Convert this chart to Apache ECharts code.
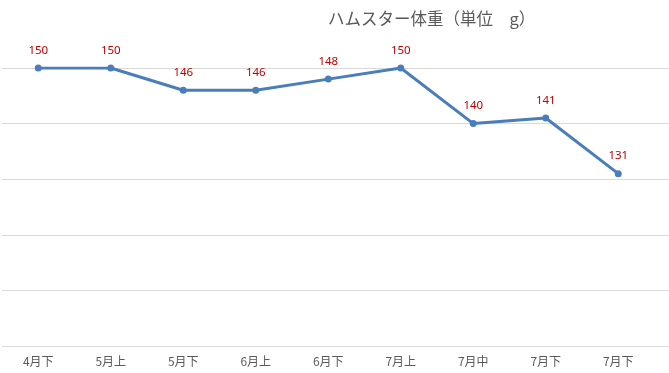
<!DOCTYPE html>
<html><head><meta charset="utf-8">
<script src="https://cdn.jsdelivr.net/npm/echarts@6/dist/echarts.min.js"></script>
<style>html,body{margin:0;padding:0;background:#fff}#c{width:669px;height:373px}</style>
</head><body><div id="c"></div>
<script>
const categories = ['4月下','5月上','5月下','6月上','6月下','7月上','7月中','7月下','7月下'];
const weights = [150,150,146,146,148,150,140,141,131];
const yTicks = [100,110,120,130,140,150];
const titleText = 'ハムスター体重（単位　g）';

const chart = echarts.init(document.getElementById('c'));
chart.setOption({
  animation: false,
  backgroundColor: '#fff',
  title: {
    text: titleText, left: 323, top: 5,
    textStyle: {fontFamily: 'Noto Sans CJK JP', fontWeight: 'normal', fontSize: 16.5, color: '#595959'}
  },
  grid: {left: 2, right: 0, top: 68, bottom: 27},
  xAxis: {
    type: 'value', min: -0.5, max: 8.7,
    axisLine: {show: false}, axisTick: {show: false}, splitLine: {show: false},
    axisLabel: {
      customValues: categories.map((c, i) => i),
      formatter: v => categories[Math.round(v)] || '',
      color: '#595959', fontSize: 12, margin: 9, fontFamily: 'Noto Sans CJK JP'
    }
  },
  yAxis: {
    type: 'value', min: yTicks[0], max: yTicks[yTicks.length - 1], interval: 10,
    axisLine: {show: false}, axisTick: {show: false}, axisLabel: {show: false},
    splitLine: {lineStyle: {color: '#D9D9D9', width: 1}}
  },
  series: [{
    type: 'line',
    data: weights.map((v, i) => [i, v]),
    symbol: 'circle', symbolSize: 7,
    lineStyle: {color: '#4A7EBB', width: 3},
    itemStyle: {color: '#4A7EBB'},
    label: {show: true, position: 'top', distance: 8, color: '#C00000', fontSize: 11.5,
      fontFamily: 'Noto Sans', formatter: p => p.value[1]}
  }]
});
</script></body></html>
